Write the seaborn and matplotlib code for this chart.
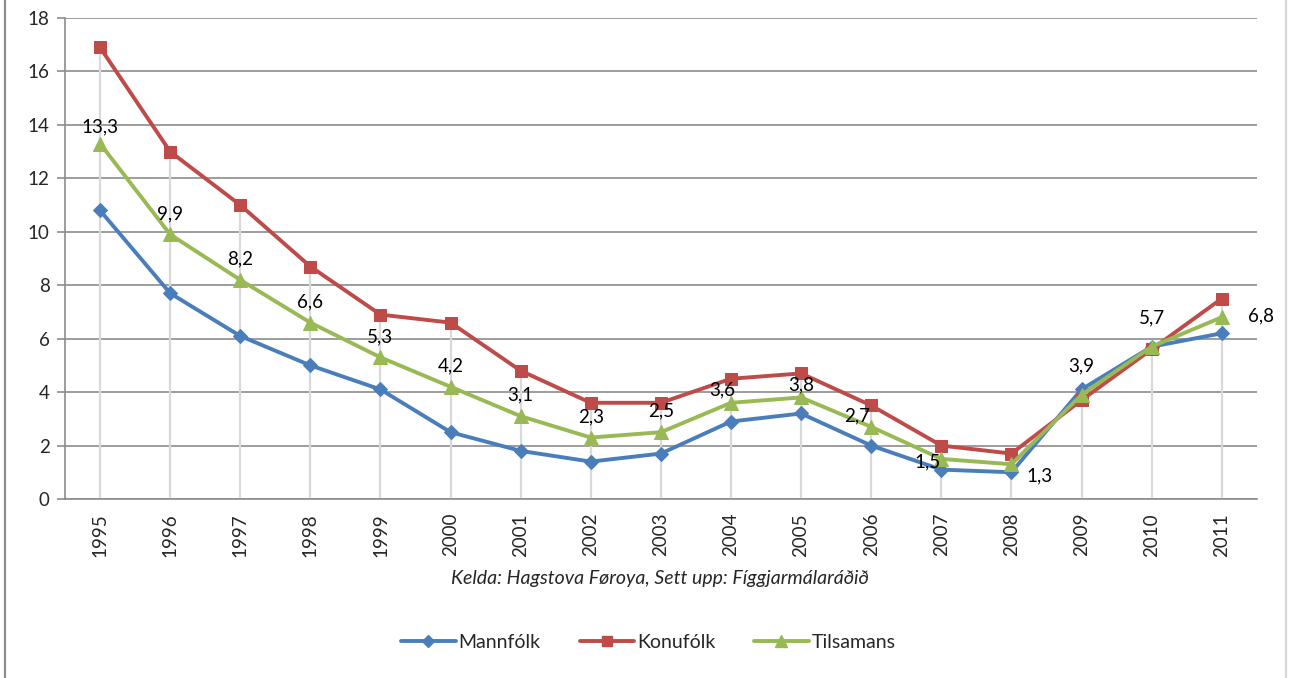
import matplotlib
matplotlib.use("Agg")
import matplotlib.pyplot as plt
from matplotlib.lines import Line2D
import numpy as np
import pandas as pd
import seaborn as sns

YEARS = [str(y) for y in range(1995, 2012)]
MANNFOLK = [10.8, 7.7, 6.1, 5.0, 4.1, 2.5, 1.8, 1.4, 1.7, 2.9, 3.2, 2.0, 1.1, 1.0, 4.1, 5.7, 6.2]
KONUFOLK = [16.9, 13.0, 11.0, 8.7, 6.9, 6.6, 4.8, 3.6, 3.6, 4.5, 4.7, 3.5, 2.0, 1.7, 3.7, 5.6, 7.5]
TILSAMANS = [13.3, 9.9, 8.2, 6.6, 5.3, 4.2, 3.1, 2.3, 2.5, 3.6, 3.8, 2.7, 1.5, 1.3, 3.9, 5.7, 6.8]
SERIES = ["Mannfólk", "Konufólk", "Tilsamans"]
SOURCE = "Kelda: Hagstova Føroya, Sett upp: Fíggjarmálaráðið"

COLORS = {"Mannfólk": "#4a7ebb", "Konufólk": "#be4b48", "Tilsamans": "#98b954"}
MARKERS = {"Mannfólk": "D", "Konufólk": "s", "Tilsamans": "^"}
MSIZE = {"Mannfólk": 7.5, "Konufólk": 8.5, "Tilsamans": 10}

sns.set_theme(style="white")
plt.rcParams["font.family"] = ["Lato", "DejaVu Sans"]

df = pd.DataFrame({"x": np.arange(len(YEARS)), "Mannfólk": MANNFOLK,
                   "Konufólk": KONUFOLK, "Tilsamans": TILSAMANS})

fig = plt.figure(figsize=(12.89, 6.78), dpi=100)
ax = fig.add_axes([0.0504, 0.264, 0.9246, 0.7095])

# drop lines from highest point to axis
ax.vlines(df["x"], 0, df[SERIES].max(axis=1), color="#d9d9d9", lw=1.6, zorder=1)

for s in SERIES:
    sns.lineplot(data=df, x="x", y=s, ax=ax, color=COLORS[s], lw=2.8,
                 marker=MARKERS[s], markersize=MSIZE[s], markeredgecolor=COLORS[s],
                 label=s, zorder=3)

# data labels for Tilsamans (Excel "above" with a few nudged by hand)
offsets = {0: (0, 12), 12: (-10, -2), 13: (20, -8), 14: (0, 21), 15: (0, 21),
           16: (28, 1), 11: (-10, 8), 9: (-6, 9), 10: (0, 9)}
for i, v in enumerate(TILSAMANS):
    dx, dy = offsets.get(i, (0, 15))
    ax.annotate(f"{v:.1f}".replace(".", ","), (i, v), xytext=(dx, dy),
                textcoords="offset points", ha="center", va="center",
                fontsize=13.5, color="black", zorder=4)

ax.set_xlim(-0.5, len(YEARS) - 0.5)
ax.set_ylim(0, 18)
ax.set_yticks(range(0, 19, 2))
ax.yaxis.grid(True, color="#8c8c8c", lw=1.2)
ax.set_axisbelow(True)
ax.set_xticks(df["x"])
ax.set_xticklabels(YEARS, rotation=90)
ax.set_xticks(np.arange(-0.5, len(YEARS)), minor=True)
ax.tick_params(axis="x", which="major", length=0, labelsize=13.5, pad=10)
ax.tick_params(axis="x", which="minor", length=6, width=1.2, color="#8c8c8c", direction="out")
ax.tick_params(axis="y", length=6, width=1.2, color="#8c8c8c", direction="out",
               labelsize=13.5, pad=5, left=True)
ax.set_xlabel("")
ax.set_ylabel("")
for side in ["top", "right"]:
    ax.spines[side].set_visible(False)
for side in ["left", "bottom"]:
    ax.spines[side].set_color("#8c8c8c")
    ax.spines[side].set_linewidth(1.2)

fig.text(0.512, 0.147, SOURCE, ha="center", va="center", style="italic", fontsize=14)

handles = [Line2D([], [], color=COLORS[s], lw=2.8, marker=MARKERS[s],
                  markersize=MSIZE[s] - 1.5, markeredgecolor=COLORS[s]) for s in SERIES]
ax.legend(handles, SERIES, loc="center", bbox_to_anchor=(0.503, 0.052),
          bbox_transform=fig.transFigure, ncol=3, frameon=False, fontsize=14,
          handlelength=2.8, handletextpad=0.15, columnspacing=2.0)

fig.add_artist(Line2D([0.004, 0.004], [0, 1], transform=fig.transFigure,
                      color="#8c8c8c", lw=1.6))
fig.add_artist(Line2D([0.998, 0.998], [0, 1], transform=fig.transFigure,
                      color="#d9d9d9", lw=1.6))

fig.savefig("out.png", dpi=100)
